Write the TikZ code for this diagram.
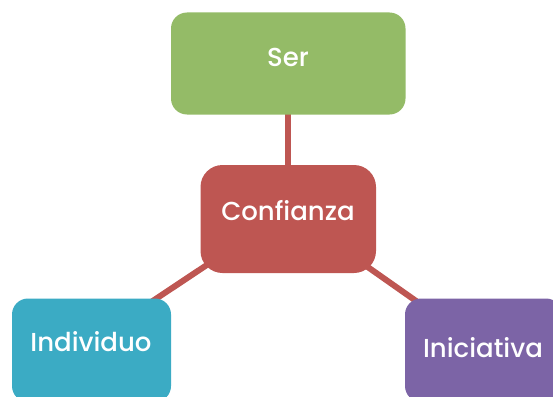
\documentclass[tikz,border=0pt]{standalone}
\usepackage{fontspec}
\setmainfont{Poppins}[BoldFont={* Medium}]
\definecolor{serc}{HTML}{94BB67}
\definecolor{confc}{HTML}{BE5652}
\definecolor{indc}{HTML}{3BABC4}
\definecolor{inic}{HTML}{7C64A6}
\begin{document}
\begin{tikzpicture}[x=1pt,y=-1pt,
  box/.style={draw=none, inner sep=0pt, rounded corners=16pt},
  lbl/.style={text=white, font=\fontsize{26}{30}\selectfont\bfseries, inner sep=0pt},
  link/.style={draw=confc, line width=6pt}]
\useasboundingbox (0,0) rectangle (553,396);
\clip (0,0) rectangle (553,396);
% text anchors (centres of labels)
\node[lbl] (serT) at (288,57) {\phantom{Ser}};
\node[lbl] (confT) at (288,211) {\phantom{Confianza}};
\node[lbl] (indT) at (91,342) {\phantom{Individuo}};
\node[lbl] (iniT) at (483,348) {\phantom{Iniciativa}};
% connectors
\draw[link] (serT.center) -- (confT.center);
\draw[link] (confT.center) -- (indT.center);
\draw[link] (confT.center) -- (iniT.center);
% boxes
\fill[serc, box] (171,12.5) rectangle (405.5,114.5);
\fill[confc, box, rounded corners=22pt] (200.5,165) rectangle (376,273);
\fill[indc, box] (12,298.5) rectangle (171,402);
\fill[inic, box] (405,298.5) rectangle (562,402);
% labels
\node[lbl] (ser) at (serT.center) {Ser};
\node[lbl] (conf) at (confT.center) {Confianza};
\node[lbl] (ind) at (indT.center) {Individuo};
\node[lbl] (ini) at (iniT.center) {Iniciativa};
\end{tikzpicture}
\end{document}
